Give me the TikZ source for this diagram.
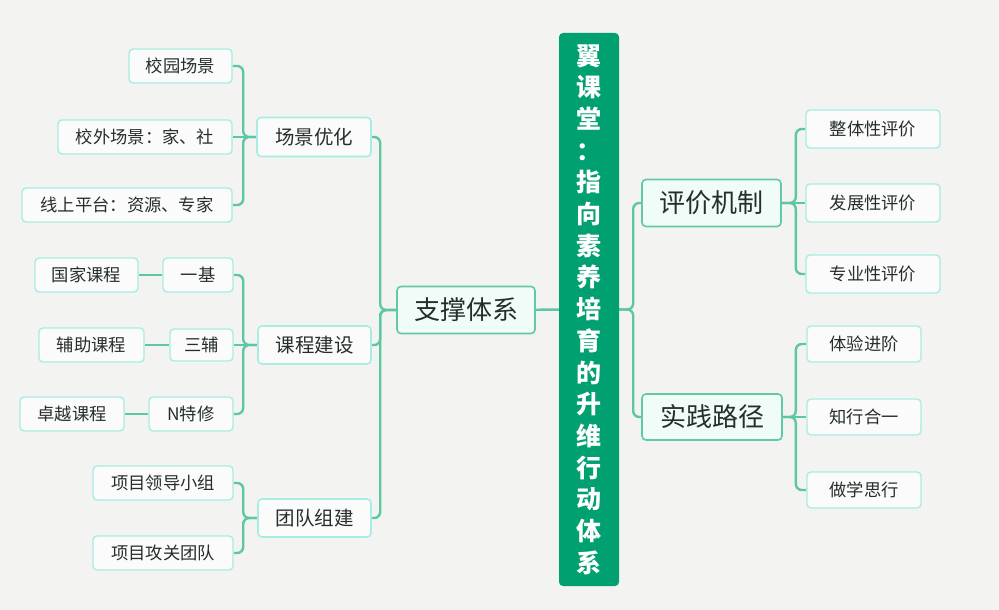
\documentclass[tikz,border=0pt]{standalone}
\usepackage{fontspec}
\setmainfont{Noto Sans CJK SC}
\usepackage{xcolor}
\usepackage{tikz}
\usetikzlibrary{positioning, backgrounds}
\definecolor{bggray}{RGB}{243,243,242}
\definecolor{rootgreen}{RGB}{0,160,112}
\definecolor{linkgreen}{RGB}{93,198,162}
\definecolor{hubline}{RGB}{98,201,164}
\definecolor{hubfill}{RGB}{239,252,248}
\definecolor{leafline}{RGB}{167,237,225}
\definecolor{leaffill}{RGB}{251,251,251}
\definecolor{txtgray}{RGB}{38,46,45}

\begin{document}
\begin{tikzpicture}[
  x=1pt, y=-1pt,
  root/.style={fill=rootgreen, rounded corners=4pt, text=white, align=center,
               inner sep=0pt, minimum width=60pt, minimum height=553pt,
               font=\fontsize{25}{31.7}\selectfont\bfseries},
  hub/.style={draw=hubline, line width=1.6pt, fill=hubfill, rounded corners=4pt,
              inner sep=0pt, minimum height=47pt, text=txtgray,
              font=\fontsize{26}{30}\selectfont},
  branch/.style={draw=leafline, line width=1.6pt, fill=leaffill, rounded corners=4pt,
                 inner sep=0pt, minimum height=39pt, text=txtgray,
                 font=\fontsize{19.5}{22}\selectfont},
  leaf/.style={draw=leafline, line width=1.4pt, fill=leaffill, rounded corners=4pt,
               inner sep=0pt, minimum height=34pt, text=txtgray,
               font=\fontsize{17.3}{20}\selectfont},
  link/.style={draw=linkgreen, line width=2.4pt, rounded corners=6pt}
]
  \useasboundingbox (0,0) rectangle (999,610);

  % Centre title
  \node[root] (root) at (589,309.5)
    {翼\\课\\堂\\：\\指\\向\\素\\养\\培\\育\\的\\升\\维\\行\\动\\体\\系};

  % Left: support system
  \node[hub, minimum width=138pt] (zc) at (466,310) {支撑体系};
  \node[branch, minimum width=114pt] (cj) at (314,137) {场景优化};
  \node[branch, minimum width=113pt, minimum height=38pt] (kc) at (314.5,345) {课程建设};
  \node[branch, minimum width=113pt, minimum height=38pt] (td) at (314.5,518) {团队组建};

  \node[leaf, minimum width=103pt] (xyc) at (180.5,66) {校园场景};
  \node[leaf, minimum width=174pt] (xwc) at (145,137) {校外场景：家、社};
  \node[leaf, minimum width=210pt] (xsp) at (127,205) {线上平台：资源、专家};

  \node[leaf, minimum width=70pt] (yj) at (198,275) {一基};
  \node[leaf, minimum width=63pt, minimum height=32pt] (sf) at (201.5,345) {三辅};
  \node[leaf, minimum width=84pt] (nt) at (191,414) {N特修};
  \node[leaf, minimum width=103pt] (gj) at (86.5,275) {国家课程};
  \node[leaf, minimum width=105pt] (fz) at (91.5,345) {辅助课程};
  \node[leaf, minimum width=104pt] (zy) at (72,414) {卓越课程};

  \node[leaf, minimum width=140pt] (ld) at (163,483) {项目领导小组};
  \node[leaf, minimum width=140pt] (gg) at (163,553) {项目攻关团队};

  % Right: evaluation and practice
  \node[hub, minimum width=139pt] (pj) at (711.5,203) {评价机制};
  \node[hub, minimum width=140pt, minimum height=46pt] (sj) at (712,417) {实践路径};

  \node[leaf, minimum width=134pt, minimum height=38pt] (zt) at (873,129) {整体性评价};
  \node[leaf, minimum width=134pt, minimum height=38pt] (fzp) at (873,203) {发展性评价};
  \node[leaf, minimum width=134pt, minimum height=38pt] (zyp) at (873,274) {专业性评价};
  \node[leaf, minimum width=114pt, minimum height=36pt] (ty) at (864,344) {体验进阶};
  \node[leaf, minimum width=114pt, minimum height=36pt] (zx) at (864,417) {知行合一};
  \node[leaf, minimum width=114pt, minimum height=36pt] (zs) at (864,490) {做学思行};

  \begin{scope}[on background layer]
    \fill[bggray] (0,0) rectangle (999,610);

    % Connectors
    \draw[link] (zc) -- (root);
    \foreach \c in {cj,kc,td}
      \draw[link] (zc.west) -- ++(-16,0) |- (\c.east);
    \foreach \c in {pj,sj}
      \draw[link] (root.east) -- ++(14,0) |- (\c.west);

    \foreach \c in {xyc,xsp}
      \draw[link] (cj.west) -- ++(-13,0) |- (\c.east);
    \draw[link] (cj) -- (xwc);
    \foreach \c in {yj,nt}
      \draw[link] (kc.west) -- ++(-14,0) |- (\c.east);
    \draw[link] (kc) -- (sf);
    \foreach \c in {ld,gg}
      \draw[link] (td.west) -- ++(-14,0) |- (\c.east);
    \draw[link] (gj) -- (yj);
    \draw[link] (fz) -- (sf);
    \draw[link] (zy) -- (nt);

    \foreach \c in {zt,zyp}
      \draw[link] (pj.east) -- ++(14,0) |- (\c.west);
    \draw[link] (pj) -- (fzp);
    \foreach \c in {ty,zs}
      \draw[link] (sj.east) -- ++(13,0) |- (\c.west);
    \draw[link] (sj) -- (zx);
  \end{scope}
\end{tikzpicture}
\end{document}
